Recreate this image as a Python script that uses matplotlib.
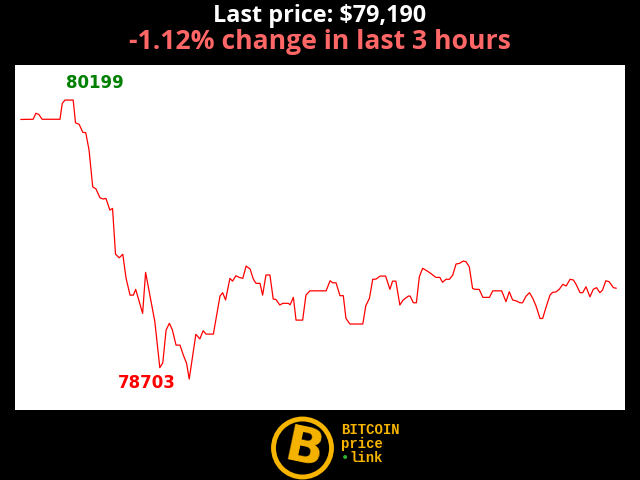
import matplotlib
matplotlib.use("Agg")
import matplotlib.pyplot as plt
from matplotlib.patches import Circle

minutes = [0.0, 3.7, 4.5, 5.4, 6.4, 11.8, 12.5, 13.3, 15.8, 16.5, 17.6, 18.7, 19.6, 20.6,
           21.7, 22.7, 23.9, 24.9, 25.7, 26.9, 27.7, 28.6, 29.7, 30.8, 31.8, 33.0, 34.0,
           34.7, 36.8, 37.7, 40.5, 42.0, 42.9, 43.9, 44.9, 45.8, 46.9, 48.1, 49.1, 50.1,
           50.9, 52.9, 54.1, 55.1, 56.0, 58.2, 60.2, 61.0, 61.9, 63.2, 64.0, 65.0, 66.0,
           67.1, 68.1, 69.3, 70.3, 71.1, 72.3, 73.1, 74.1, 75.3, 76.3, 77.1, 78.3, 79.2,
           80.9, 81.4, 82.4, 83.2, 85.2, 86.2, 87.4, 92.3, 93.5, 94.3, 95.3, 96.5, 97.5,
           98.3, 99.5, 103.4, 104.3, 105.4, 106.4, 107.4, 108.6, 110.3, 111.6, 112.4,
           113.4, 114.6, 115.6, 117.2, 117.7, 118.7, 119.6, 120.5, 121.5, 122.7, 123.9,
           125.5, 126.7, 127.5, 128.6, 129.6, 130.6, 131.6, 132.6, 133.8, 134.6, 135.6,
           136.6, 137.3, 138.6, 139.7, 141.7, 142.7, 145.4, 146.7, 147.7, 148.7, 149.7,
           150.9, 151.7, 152.8, 153.8, 154.8, 155.8, 157.0, 157.8, 158.8, 160.0, 160.8,
           161.8, 162.8, 163.9, 164.9, 166.1, 167.1, 167.9, 169.1, 169.9, 170.9, 172.1,
           173.1, 174.1, 175.1, 175.9, 176.9, 177.9, 179.2, 180.0]
prices = [80095, 80096, 80128, 80122, 80096, 80096, 80181, 80199, 80199, 80077, 80069, 80026,
          80024, 79931, 79734, 79722, 79675, 79668, 79672, 79609, 79618, 79373, 79353, 79372,
          79243, 79153, 79153, 79184, 79055, 79275, 79010, 78764, 78790, 78966, 79002, 78966,
          78885, 78885, 78832, 78787, 78703, 78943, 78918, 78962, 78944, 78944, 79148, 79166,
          79127, 79243, 79228, 79257, 79248, 79243, 79309, 79293, 79238, 79216, 79216, 79153,
          79261, 79261, 79132, 79130, 79100, 79109, 79109, 79101, 79141, 79019, 79019, 79153,
          79176, 79176, 79230, 79219, 79219, 79150, 79150, 79028, 78998, 78998, 79096, 79136,
          79238, 79239, 79255, 79255, 79184, 79228, 79228, 79100, 79127, 79148, 79148, 79112,
          79112, 79252, 79297, 79284, 79270, 79248, 79248, 79222, 79238, 79238, 79261, 79320,
          79323, 79336, 79332, 79305, 79189, 79184, 79184, 79141, 79141, 79176, 79176, 79118,
          79171, 79127, 79123, 79112, 79112, 79148, 79166, 79136, 79094, 79028, 79028, 79087,
          79153, 79168, 79170, 79184, 79211, 79202, 79238, 79234, 79211, 79166, 79166, 79198,
          79144, 79184, 79193, 79166, 79180, 79230, 79225, 79193, 79190]

title_line1 = "Last price: $79,190"
title_line2 = "-1.12% change in last 3 hours"
max_label = "80199"
min_label = "78703"

fig = plt.figure(figsize=(6.4, 4.8), dpi=100, facecolor="black")
ax = fig.add_axes([15/640, 70/480, 610/640, 345/480])
ax.set_facecolor("white")
ax.plot(minutes, prices, color="red", linewidth=0.9)
ax.set_xlim(-1.8, 182.7)
ax.set_ylim(78537, 80387)
ax.set_xticks([])
ax.set_yticks([])
for s in ax.spines.values():
    s.set_visible(False)

ax.text(22.4, 80290, max_label, color="#008000", fontsize=12, fontweight="bold",
        ha="center", va="center")
ax.text(38.0, 78682, min_label, color="#ff0000", fontsize=12, fontweight="bold",
        ha="center", va="center")

fig.text(0.5, 1 - 16/480, title_line1, color="white", fontsize=16.8, fontweight="bold",
         family="Open Sans", ha="center", va="center")
fig.text(0.5, 1 - 42/480, title_line2, color="#ff6666", fontsize=19.1, fontweight="bold",
         family="Open Sans", ha="center", va="center")

# logo
gold = "#f7b500"
lax = fig.add_axes([0, 0, 1, 70/480])
lax.set_xlim(0, 640)
lax.set_ylim(70, 0)
lax.axis("off")
lax.set_aspect("equal")
lax.add_patch(Circle((302.5, 38), 29, facecolor="black", edgecolor=gold, linewidth=3.5))
lax.text(304, 39, "B", color=gold, fontsize=36, fontweight="bold", rotation=-12,
         ha="center", va="center", family="DejaVu Sans")
lax.text(341, 20, "BITCOIN", color=gold, fontsize=10, fontweight="bold",
         family="Liberation Mono", ha="left", va="center")
lax.text(341, 34, "price", color=gold, fontsize=10, fontweight="bold",
         family="Liberation Mono", ha="left", va="center")
lax.text(341, 48, "\u2022", color="#2db52d", fontsize=10, fontweight="bold",
         family="Liberation Mono", ha="left", va="center")
lax.text(349, 48, "link", color=gold, fontsize=10, fontweight="bold",
         family="Liberation Mono", ha="left", va="center")

fig.savefig("out.png", dpi=100, facecolor="black")
